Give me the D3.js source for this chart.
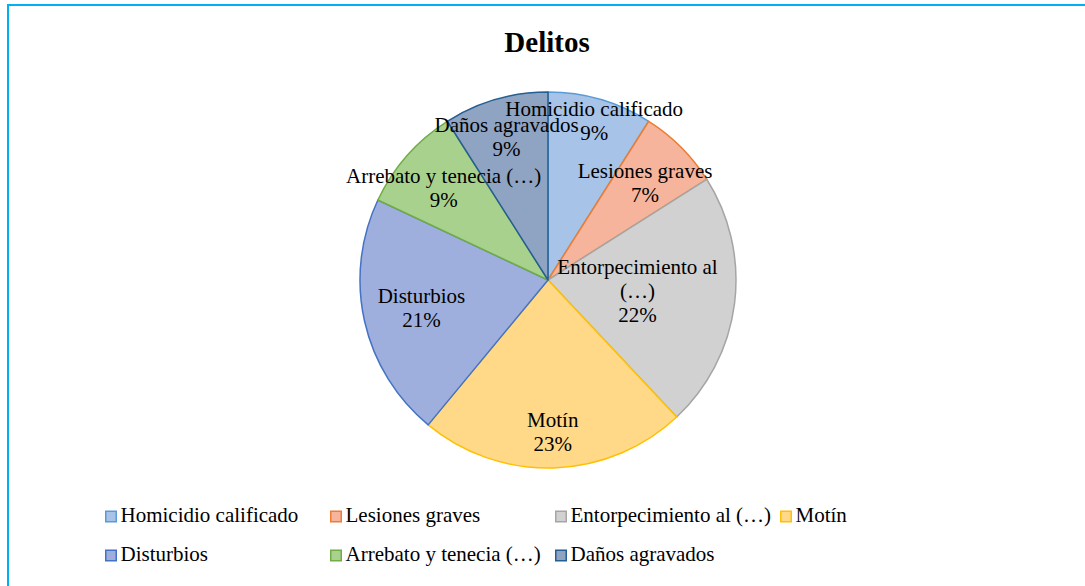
<!DOCTYPE html>
<html>
<head>
<meta charset="utf-8">
<script src="https://cdn.jsdelivr.net/npm/d3@7"></script>
<style>
  html, body { margin: 0; padding: 0; background: #fff; overflow: hidden; }
</style>
</head>
<body>
<div id="chart"></div>
<script>
// Chart data
const categories = ['Homicidio calificado', 'Lesiones graves', 'Entorpecimiento al (…)', 'Motín',
    'Disturbios', 'Arrebato y tenecia (…)', 'Daños agravados'];
const values = [9, 7, 22, 23, 21, 9, 9];
// label text inside the pie (Excel wraps some of them)
const sliceLabels = [['Homicidio calificado'], ['Lesiones graves'], ['Entorpecimiento al', '(…)'], ['Motín'],
    ['Disturbios'], ['Arrebato y tenecia (…)'], ['Daños agravados']];

// styling, kept apart from the data
const fills = ['#a7c3e7', '#f5b49b', '#d1d1d1', '#ffd888', '#9fafdd', '#a9d18e', '#8fa3c2'];
const strokes = ['#5b9bd5', '#ed7d31', '#a5a5a5', '#ffc000', '#4472c4', '#70ad47', '#255e91'];
const labelRadius = [0.88, 0.73, 0.48, 0.81, 0.69, 0.74, 0.79];
const FONT = 'Liberation Serif';

const width = 1085;
const height = 586;
const cx = 548, cy = 280, r = 188;

const svg = d3.select('#chart')
    .append('svg')
    .attr('width', width)
    .attr('height', height)
    .attr('font-family', FONT);

// outer frame
svg.append('rect')
    .attr('x', 8).attr('y', 5)
    .attr('width', width + 20).attr('height', height + 20)
    .attr('fill', 'none')
    .attr('stroke', '#00b0f0')
    .attr('stroke-width', 2);

svg.append('text')
    .attr('x', 547).attr('y', 52)
    .attr('text-anchor', 'middle')
    .attr('font-size', 29)
    .attr('font-weight', 'bold')
    .text('Delitos');

const data = categories.map((c, i) => ({ name: c, value: values[i], i }));

const pie = d3.pie().value(d => d.value).sort(null);
const arc = d3.arc().innerRadius(0).outerRadius(r);
const arcs = pie(data);
const total = d3.sum(values);

const g = svg.append('g').attr('transform', `translate(${cx},${cy})`);

g.selectAll('path')
    .data(arcs)
    .enter()
    .append('path')
    .attr('d', arc)
    .attr('fill', d => fills[d.data.i])
    .attr('stroke', d => strokes[d.data.i])
    .attr('stroke-width', 1.5)
    .attr('stroke-linejoin', 'round');

// data labels
const labels = g.selectAll('g.lbl')
    .data(arcs)
    .enter()
    .append('g')
    .attr('class', 'lbl')
    .attr('transform', d => {
        const lr = r * labelRadius[d.data.i];
        const c = d3.arc().innerRadius(lr).outerRadius(lr).centroid(d);
        return `translate(${c[0]},${c[1]})`;
    });

labels.each(function(d) {
    const lines = sliceLabels[d.data.i].concat([Math.round(d.data.value / total * 100) + '%']);
    const lh = 24;
    const top = -(lines.length - 1) * lh / 2;
    const t = d3.select(this).append('text')
        .attr('text-anchor', 'middle')
        .attr('font-size', 21);
    lines.forEach((l, k) => {
        t.append('tspan')
            .attr('x', 0)
            .attr('y', top + k * lh + 7)
            .text(l);
    });
});

// legend
const legendCols = [105, 330, 555, 780];
const legendRows = [516.5, 555.5];
const legend = svg.selectAll('g.leg')
    .data(data)
    .enter()
    .append('g')
    .attr('class', 'leg')
    .attr('transform', (d, i) => `translate(${legendCols[i % 4]},${legendRows[Math.floor(i / 4)]})`);

legend.append('rect')
    .attr('x', 0.75).attr('y', -5.25)
    .attr('width', 10.5).attr('height', 10.5)
    .attr('fill', d => fills[d.i])
    .attr('stroke', d => strokes[d.i])
    .attr('stroke-width', 1.5);

legend.append('text')
    .attr('x', 15.5).attr('y', 5.5)
    .attr('font-size', 21)
    .text(d => d.name);
</script>
</body>
</html>
